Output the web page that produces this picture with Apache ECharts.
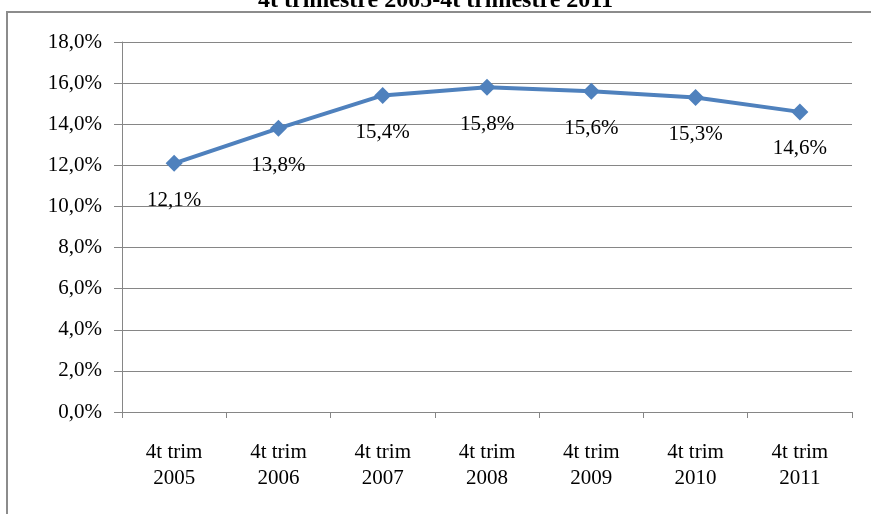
<!DOCTYPE html>
<html>
<head>
<meta charset="utf-8">
<script src="https://cdn.jsdelivr.net/npm/echarts@6/dist/echarts.min.js"></script>
<style>
  html, body { margin: 0; padding: 0; background: #fff; }
  #chart { width: 871px; height: 514px; }
</style>
</head>
<body>
<div id="chart"></div>
<script>
const categories = ['4t trim\n2005', '4t trim\n2006', '4t trim\n2007', '4t trim\n2008', '4t trim\n2009', '4t trim\n2010', '4t trim\n2011'];
const values = [12.1, 13.8, 15.4, 15.8, 15.6, 15.3, 14.6];
const titleText = '4t trimestre 2005-4t trimestre 2011';

const fmt = v => v.toFixed(1).replace('.', ',') + '%';
const serif = '"Liberation Serif", "DejaVu Serif", serif';

const chart = echarts.init(document.getElementById('chart'));
chart.setOption({
  backgroundColor: '#fff',
  animation: false,
  title: {
    text: titleText,
    left: 'center',
    top: -16,
    textStyle: { fontFamily: serif, fontSize: 24, fontWeight: 'bold', color: '#000' },
  },
  graphic: [
    {
      type: 'rect',
      shape: { x: 7, y: 12, width: 900, height: 600 },
      style: { fill: null, stroke: '#8c8c8c', lineWidth: 2 },
      z: 100,
    },
  ],
  grid: { left: 122, right: 19, top: 42, bottom: 102 },
  xAxis: {
    type: 'category',
    data: categories,
    axisLine: { lineStyle: { color: '#868686' } },
    axisTick: { show: true, length: 6, lineStyle: { color: '#868686' } },
    axisLabel: { fontFamily: serif, fontSize: 21, color: '#000', lineHeight: 26, margin: 27 },
  },
  yAxis: {
    type: 'value',
    min: 0,
    max: 18,
    interval: 2,
    axisLine: { show: true, lineStyle: { color: '#868686' } },
    axisTick: { show: true, length: 8, lineStyle: { color: '#868686' } },
    splitLine: { lineStyle: { color: '#868686' } },
    axisLabel: { fontFamily: serif, fontSize: 21, color: '#000', margin: 20, formatter: v => fmt(v) },
  },
  series: [
    {
      type: 'line',
      data: values,
      symbol: 'diamond',
      symbolSize: 17,
      lineStyle: { color: '#4F81BD', width: 4 },
      itemStyle: { color: '#4F81BD' },
      label: {
        show: true,
        position: 'bottom',
        distance: 18,
        fontFamily: serif,
        fontSize: 21,
        color: '#000',
        formatter: p => fmt(p.value),
      },
    },
  ],
});
</script>
</body>
</html>
